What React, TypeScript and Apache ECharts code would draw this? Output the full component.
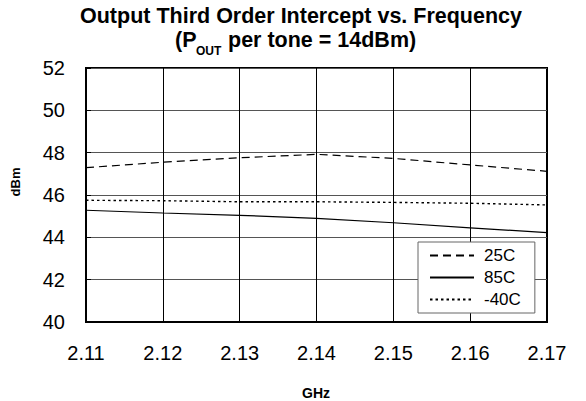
import React, { useEffect, useRef } from "react";
import * as echarts from "echarts";

const freqs = [2.11, 2.12, 2.13, 2.14, 2.15, 2.16, 2.17];
const oip3_25C = [47.29, 47.55, 47.76, 47.92, 47.73, 47.42, 47.12];
const oip3_85C = [45.28, 45.15, 45.04, 44.9, 44.69, 44.45, 44.22];
const oip3_m40C = [45.75, 45.73, 45.68, 45.68, 45.65, 45.61, 45.53];
const seriesNames = ["25C", "85C", "-40C"];

const FONT = "'Liberation Sans', Arial, Helvetica, sans-serif";

export default function App() {
  const ref = useRef<HTMLDivElement>(null);
  useEffect(() => {
    if (!ref.current) return;
    const chart = echarts.init(ref.current, null, { renderer: "svg" });
    const toPairs = (v: number[]) => freqs.map((f, i) => [f, v[i]]);
    chart.setOption({
      animation: false,
      backgroundColor: "#fff",
      textStyle: { fontFamily: FONT },
      grid: {
        left: 86,
        right: 39,
        top: 68,
        bottom: 79,
        show: true,
        borderColor: "#000",
        borderWidth: 2,
        backgroundColor: "transparent",
      },
      graphic: [
        {
          type: "text",
          x: 301,
          y: 15.5,
          style: {
            text: "Output Third Order Intercept vs. Frequency",
            font: `bold 21.5px ${FONT}`,
            fill: "#000",
            textAlign: "center",
            textVerticalAlign: "middle",
          },
        },
        {
          type: "text",
          x: 175,
          y: 40,
          style: {
            text: "(P",
            font: `bold 21.5px ${FONT}`,
            fill: "#000",
            textAlign: "left",
            textVerticalAlign: "middle",
          },
        },
        {
          type: "text",
          x: 196,
          y: 51,
          style: {
            text: "OUT",
            font: `bold 12px ${FONT}`,
            fill: "#000",
            textAlign: "left",
            textVerticalAlign: "middle",
          },
        },
        {
          type: "text",
          x: 228,
          y: 40,
          style: {
            text: "per tone = 14dBm)",
            font: `bold 21.5px ${FONT}`,
            fill: "#000",
            textAlign: "left",
            textVerticalAlign: "middle",
          },
        },
        {
          type: "text",
          x: 15,
          y: 182,
          rotation: Math.PI / 2,
          style: {
            text: "dBm",
            font: `bold 13px ${FONT}`,
            fill: "#000",
            textAlign: "center",
            textVerticalAlign: "middle",
          },
        },
        {
          type: "text",
          x: 316,
          y: 393,
          style: {
            text: "GHz",
            font: `bold 14px ${FONT}`,
            fill: "#000",
            textAlign: "center",
            textVerticalAlign: "middle",
          },
        },
      ],
      legend: {
        left: 418,
        top: 242,
        orient: "vertical",
        itemWidth: 44,
        itemHeight: 14,
        itemGap: 5,
        padding: [5, 14, 5, 11],
        backgroundColor: "#fff",
        borderColor: "#666",
        borderWidth: 1,
        itemStyle: { opacity: 0 },
        textStyle: { fontSize: 17, color: "#000", fontFamily: FONT, padding: [0, 0, 0, 5] },
        data: seriesNames,
      },
      xAxis: {
        type: "value",
        min: 2.11,
        max: 2.17,
        interval: 0.01,
        axisLine: { show: true, lineStyle: { color: "#000", width: 2 } },
        axisTick: { show: false },
        axisLabel: {
          fontSize: 20,
          color: "#000",
          fontFamily: FONT,
          margin: 21,
          formatter: (v: number) => v.toFixed(2),
        },
        splitLine: { show: true, lineStyle: { color: "#000", width: 1 } },
      },
      yAxis: {
        type: "value",
        min: 40,
        max: 52,
        interval: 2,
        axisLine: { show: true, lineStyle: { color: "#000", width: 2 } },
        axisTick: { show: true, inside: true, length: 5, lineStyle: { color: "#000", width: 1 } },
        axisLabel: { fontSize: 20, color: "#000", fontFamily: FONT, margin: 21 },
        splitLine: { show: true, lineStyle: { color: "#555", width: 1 } },
      },
      series: [
        {
          name: seriesNames[0],
          type: "line",
          data: toPairs(oip3_25C),
          symbol: "none",
          lineStyle: { color: "#000", width: 1.2, type: [8, 5] },
          itemStyle: { color: "#000" },
        },
        {
          name: seriesNames[1],
          type: "line",
          data: toPairs(oip3_85C),
          symbol: "none",
          lineStyle: { color: "#000", width: 1.2, type: "solid" },
          itemStyle: { color: "#000" },
        },
        {
          name: seriesNames[2],
          type: "line",
          data: toPairs(oip3_m40C),
          symbol: "none",
          lineStyle: { color: "#000", width: 1.4, type: [2.5, 3] },
          itemStyle: { color: "#000" },
        },
      ],
    });
    return () => chart.dispose();
  }, []);
  return (
    <div
      ref={ref}
      style={{ position: "fixed", left: 0, top: 0, width: 586, height: 401, background: "#fff" }}
    />
  );
}
